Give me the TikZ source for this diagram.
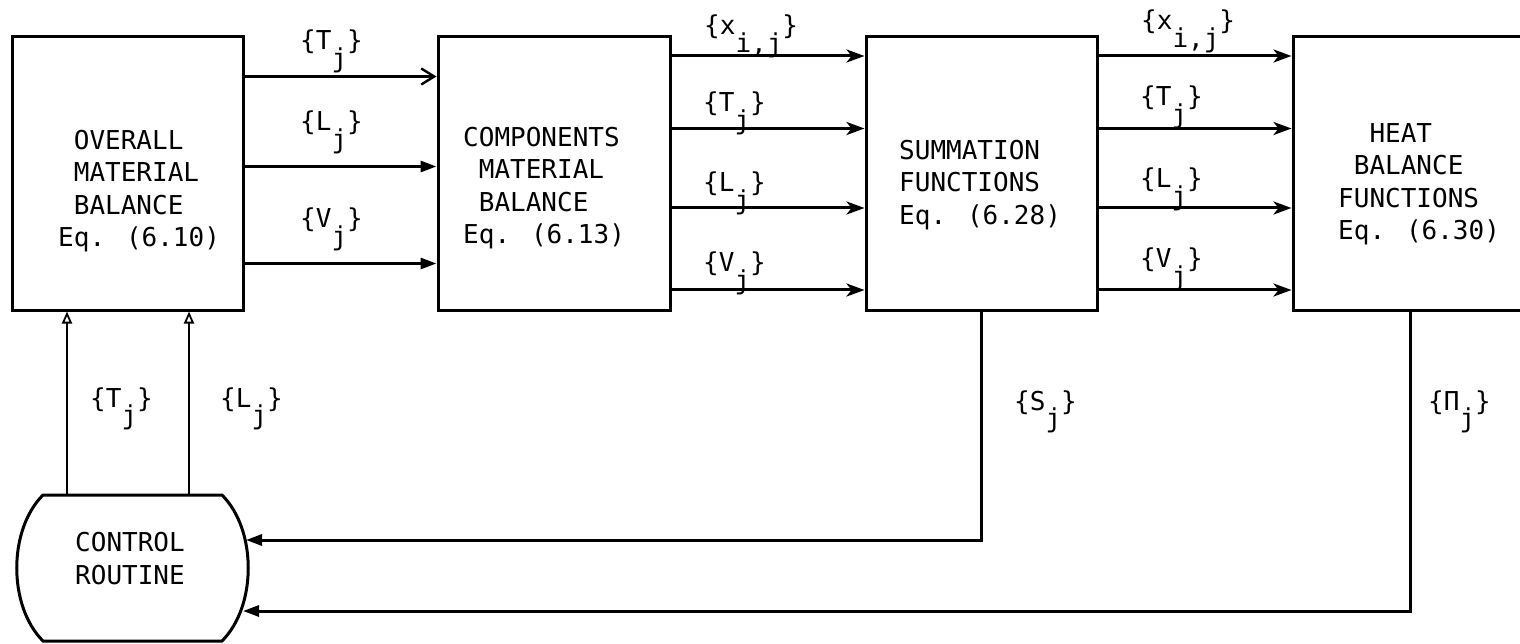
\documentclass[tikz,border=0pt]{standalone}
\usepackage{fontspec}
\newfontfamily\twfont{DejaVu Sans Mono}
\usetikzlibrary{arrows.meta}
\newcommand\lowsub[1]{\raisebox{-0.68em}{#1}}
\begin{document}
\begin{tikzpicture}[x=1pt,y=-1pt,
  blk/.style={draw,line width=3pt,minimum height=273pt,inner sep=0pt},
  txt/.style={font={\twfont\fontsize{26pt}{32.5pt}\selectfont},align=left,inner sep=0pt,anchor=north west},
  lab/.style={font={\twfont\fontsize{26pt}{32.5pt}\selectfont},inner sep=0pt,anchor=base west},
  harr/.style={line width=3pt,-{Triangle[length=16pt,width=11pt]}},
  barb/.style={line width=3pt,-{Straight Barb[length=13pt,width=16pt,line width=2.4pt]}},
  sarr/.style={line width=3pt,-{Stealth[length=18pt,width=13pt,inset=5pt]}},
  uparr/.style={line width=2.2pt,-{Triangle[open,length=12pt,width=10pt,line width=1.8pt]}},
  barrel/.style={line width=3pt}
]
\useasboundingbox (0,0) rectangle (1520,644);

% boxes
\node[blk,minimum width=231pt] (b1) at (127.5,173.5) {};
\node[blk,minimum width=232pt] (b2) at (554,173.5) {};
\node[blk,minimum width=231pt] (b3) at (981.5,173.5) {};
\node[blk,minimum width=234pt] (b4) at (1410,173.5) {};

% box texts
\node[txt] (t1) at (58,130) {\phantom{0}OVERALL\\\phantom{0}MATERIAL\\\phantom{0}BALANCE\\Eq. (6.10)};
\node[txt] (t2) at (463,127) {COMPONENTS\\\phantom{0}MATERIAL\\\phantom{0}BALANCE\\Eq. (6.13)};
\node[txt] (t3) at (899,140) {SUMMATION\\FUNCTIONS\\Eq. (6.28)};
\node[txt] (t4) at (1338,123) {\phantom{00}HEAT\\\phantom{0}BALANCE\\FUNCTIONS\\Eq. (6.30)};

% control routine
\draw[barrel] (43,495) -- (222,495) .. controls (257,530) and (257,606) .. (222,641)
  -- (43,641) .. controls (8,606) and (8,530) .. (43,495) -- cycle;
\node[txt] (ctrl) at (75,532) {CONTROL\\ROUTINE};
\coordinate (cT1) at (67,495);
\coordinate (cT2) at (189,495);
\coordinate (cS) at (246,540);
\coordinate (cP) at (243,611);

% box1 -> box2
\draw[barb] ([yshift=-41pt]b1.north east) -- ([yshift=-41pt]b2.north west);
\draw[harr] ([yshift=-131pt]b1.north east) -- ([yshift=-131pt]b2.north west);
\draw[harr] ([yshift=-228pt]b1.north east) -- ([yshift=-228pt]b2.north west);
\node[lab] (l12a) at (300,50) {\{T\lowsub{j}\}};
\node[lab] (l12b) at (300,131) {\{L\lowsub{j}\}};
\node[lab] (l12c) at (300,228) {\{V\lowsub{j}\}};

% box2 -> box3
\draw[sarr] ([yshift=-20.5pt]b2.north east) -- ([yshift=-20.5pt]b3.north west);
\draw[sarr] ([yshift=-93pt]b2.north east) -- ([yshift=-93pt]b3.north west);
\draw[sarr] ([yshift=-172.5pt]b2.north east) -- ([yshift=-172.5pt]b3.north west);
\draw[sarr] ([yshift=-254.5pt]b2.north east) -- ([yshift=-254.5pt]b3.north west);
\node[lab] (l23a) at (704,35) {\{x\lowsub{i,j}\}};
\node[lab] (l23b) at (703,112) {\{T\lowsub{j}\}};
\node[lab] (l23c) at (703,192) {\{L\lowsub{j}\}};
\node[lab] (l23d) at (703,272) {\{V\lowsub{j}\}};

% box3 -> box4
\draw[sarr] ([yshift=-20.5pt]b3.north east) -- ([yshift=-20.5pt]b4.north west);
\draw[sarr] ([yshift=-93pt]b3.north east) -- ([yshift=-93pt]b4.north west);
\draw[sarr] ([yshift=-172.5pt]b3.north east) -- ([yshift=-172.5pt]b4.north west);
\draw[sarr] ([yshift=-254.5pt]b3.north east) -- ([yshift=-254.5pt]b4.north west);
\node[lab] (l34a) at (1141,30) {\{x\lowsub{i,j}\}};
\node[lab] (l34b) at (1140,106) {\{T\lowsub{j}\}};
\node[lab] (l34c) at (1140,188) {\{L\lowsub{j}\}};
\node[lab] (l34d) at (1140,268) {\{V\lowsub{j}\}};

% control -> box1
\draw[uparr] (cT1) -- (b1.south -| cT1);
\draw[uparr] (cT2) -- (b1.south -| cT2);
\node[lab] (lcT) at (90,407) {\{T\lowsub{j}\}};
\node[lab] (lcL) at (220,407) {\{L\lowsub{j}\}};

% feedback
\draw[harr] (b3.south) |- (cS);
\draw[harr] (b4.south) |- (cP);
\node[lab] (lS) at (1014,410) {\{S\lowsub{j}\}};
\node[lab] (lP) at (1428,410) {\{Π\lowsub{j}\}};
\end{tikzpicture}
\end{document}
